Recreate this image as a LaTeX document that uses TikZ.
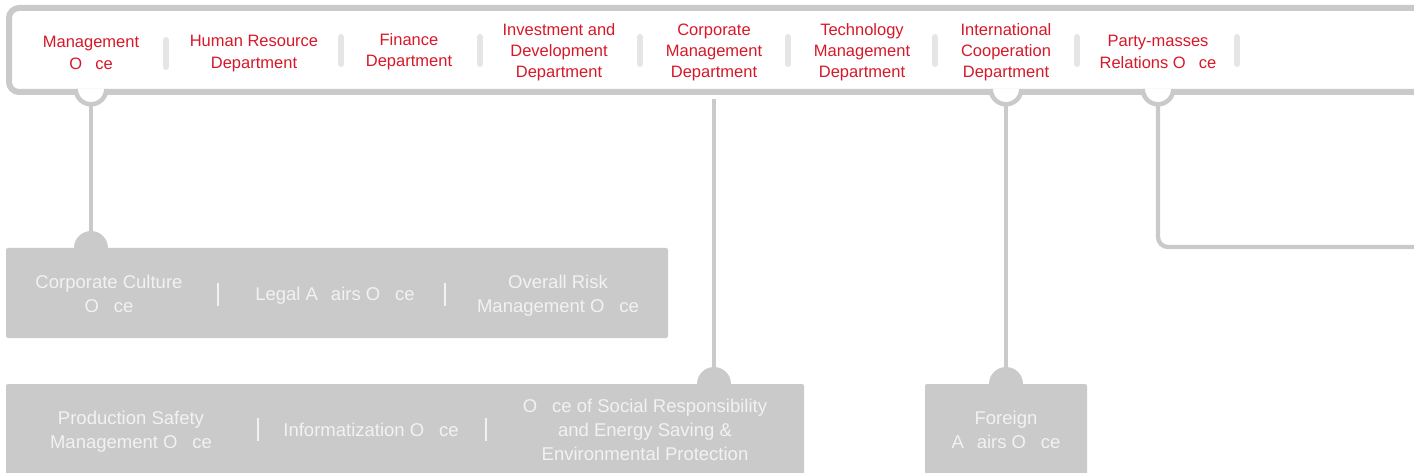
\documentclass[tikz,border=0pt]{standalone}
\usepackage{fontspec}
\setmainfont{Liberation Sans}
\usetikzlibrary{calc}
\definecolor{lgray}{RGB}{201,202,201}
\definecolor{sepgray}{RGB}{229,229,229}
\definecolor{dred}{RGB}{214,24,40}
\definecolor{lowwhite}{RGB}{242,242,242}
\newcommand\gapffi{\hspace{0.8em}}
\newcommand\gapff{\hspace{0.7em}}
\begin{document}
\begin{tikzpicture}[x=1pt,y=-1pt,
 toptext/.style={text=dred, font=\fontsize{16.5}{21.2}\selectfont, align=center, inner sep=0},
 lowtext/.style={text=lowwhite, font=\fontsize{18.5}{24}\selectfont, align=center, inner sep=0},
 lowbox/.style={fill=lgray, rounded corners=2pt, inner sep=0},
 barline/.style={draw=lgray, line width=6pt, rounded corners=10pt},
 stem/.style={draw=lgray, line width=4.3pt},
 ring/.style={draw=lgray, line width=4.5pt},
 sepbar/.style={draw=sepgray, line width=6pt, line cap=round},
 divider/.style={draw=lowwhite, line width=1.2pt}]
\useasboundingbox (0,0) rectangle (1414,473);

% lower boxes
\node[lowbox, minimum width=662pt, minimum height=90pt] (B1) at (337,293) {};
\node[lowbox, minimum width=798pt, minimum height=106pt] (B2) at (405,437) {};
\node[lowbox, minimum width=162pt, minimum height=106pt] (B3) at (1006,437) {};

% caps on the lower boxes
\coordinate (c1) at (91,248);
\coordinate (c5) at (714,384);
\coordinate (c7) at (1006,384);
\foreach \c in {c1,c5,c7}{
  \fill[lgray] ($(\c)+(-17,0)$) arc[start angle=180, end angle=360, radius=17] -- cycle;
}

% top bar
\draw[barline] (1430,8) -- (9,8) -- (9,92) -- (1430,92);

% bumps
\coordinate (k1) at (91,89);
\coordinate (k7) at (1006,89);
\coordinate (k8) at (1158,89);
\foreach \k in {k1,k7,k8}{
  \fill[white] ($(\k)+(-13.2,0)$) arc[start angle=180, end angle=0, radius=13.2] -- cycle;
  \draw[ring] ($(\k)+(-15.3,0)$) arc[start angle=180, end angle=0, radius=15.3];
}

% connectors
\coordinate (b1) at (91,105);
\coordinate (b5) at (714,99);
\coordinate (b7) at (1006,105);
\coordinate (b8) at (1158,105);
\coordinate (p8) at (1430,247);
\draw[stem] (b1) -- ($(c1)+(0,-8)$);
\draw[stem] (b5) -- ($(c5)+(0,-8)$);
\draw[stem] (b7) -- ($(c7)+(0,-8)$);
\draw[stem, rounded corners=10pt] (b8) |- (p8);

% separators in top bar
\draw[sepbar] (166,40) -- (166,67);
\draw[sepbar] (341,37) -- (341,64);
\draw[sepbar] (480,37) -- (480,64);
\draw[sepbar] (640,37) -- (640,64);
\draw[sepbar] (788,37) -- (788,64);
\draw[sepbar] (935,37) -- (935,64);
\draw[sepbar] (1077,37) -- (1077,64);
\draw[sepbar] (1237,37) -- (1237,64);

% top labels
\node[toptext] (t1) at (91,53) {Management\\O\gapffi ce};
\node[toptext] (t2) at (254,53.5) {Human Resource\\Department};
\node[toptext] (t3) at (409,52) {Finance\\Department};
\node[toptext] (t4) at (559,52.5) {Investment and\\Development\\Department};
\node[toptext] (t5) at (714,52.5) {Corporate\\Management\\Department};
\node[toptext] (t6) at (862,52.5) {Technology\\Management\\Department};
\node[toptext] (t7) at (1006,52.5) {International\\Cooperation\\Department};
\node[toptext] (t8) at (1158,52) {Party-masses\\Relations O\gapffi ce};

% lower labels
\node[lowtext] (l1) at (109,294) {Corporate Culture\\O\gapffi ce};
\node[lowtext] (l2) at (335,295.5) {Legal A\gapff airs O\gapffi ce};
\node[lowtext] (l3) at (558,295.5) {Overall Risk\\Management O\gapffi ce};
\draw[divider] (218,283) -- (218,306);
\draw[divider] (445,283) -- (445,306);

\node[lowtext] (l4) at (131,432) {Production Safety\\Management O\gapffi ce};
\node[lowtext] (l5) at (371,430) {Informatization O\gapffi ce};
\node[lowtext] (l6) at (645,430) {O\gapffi ce of Social Responsibility\\and Energy Saving \&\\Environmental Protection};
\draw[divider] (258,418) -- (258,441);
\draw[divider] (486,418) -- (486,441);

\node[lowtext] (l7) at (1006,430) {Foreign\\A\gapff airs O\gapffi ce};
\end{tikzpicture}
\end{document}
